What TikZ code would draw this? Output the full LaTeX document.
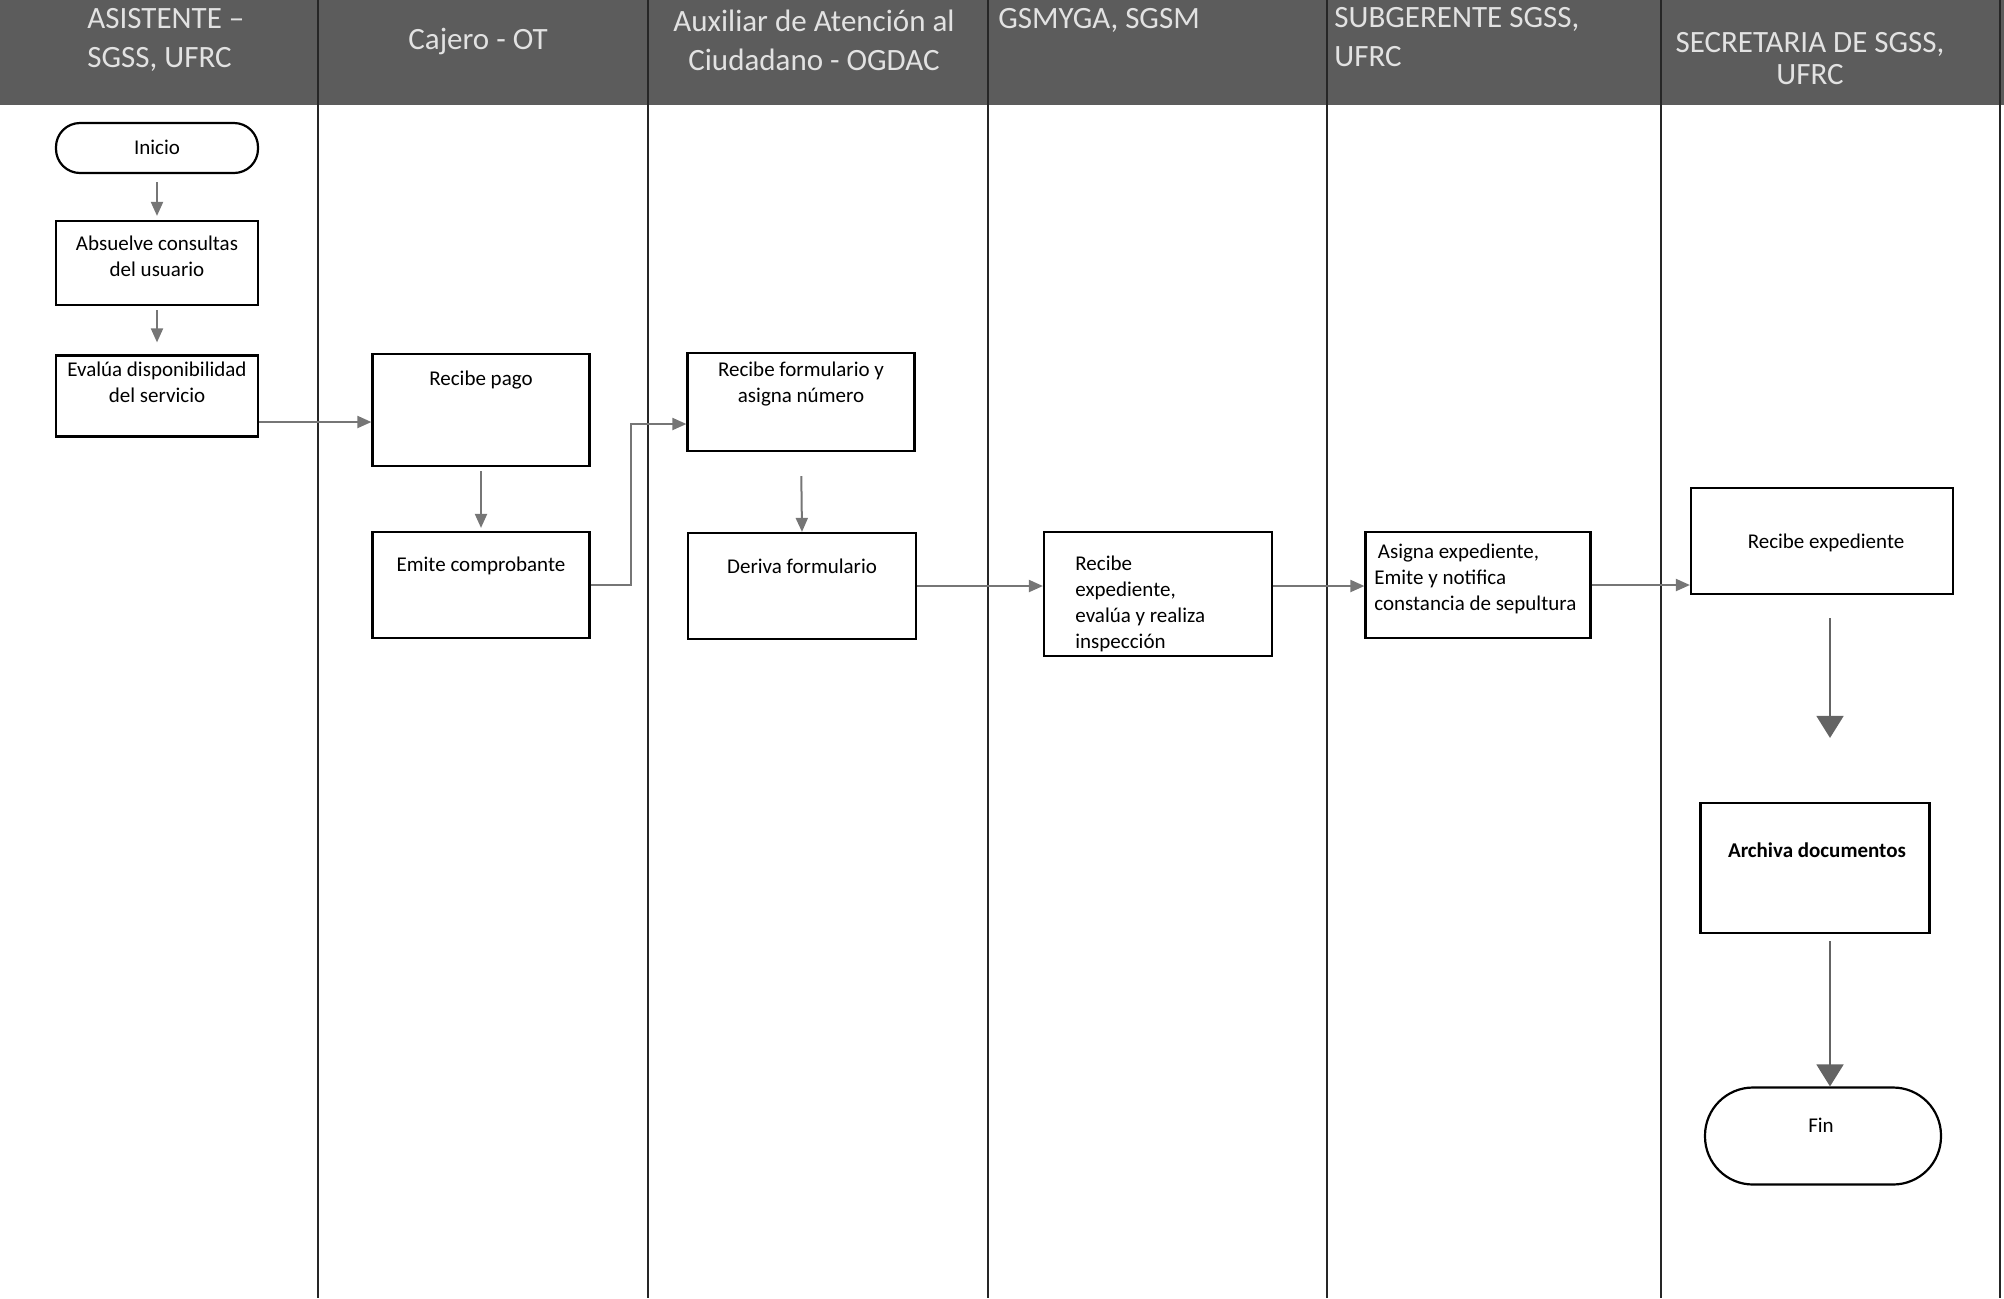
\documentclass[tikz,border=0pt]{standalone}
\usepackage{fontspec}
\setmainfont{Carlito}
\usetikzlibrary{calc,arrows.meta}

\definecolor{headbg}{RGB}{92,92,92}
\definecolor{headfg}{RGB}{226,226,226}
\definecolor{flowgray}{RGB}{118,118,118}

\tikzset{
  box/.style={draw=black, line width=1.1pt, rectangle, inner sep=0pt},
  boxtext/.style={font=\fontsize{10.5}{13}\selectfont, align=center, inner sep=0pt},
  headtext/.style={font=\fontsize{15.5}{19.5}\selectfont, text=headfg, inner sep=0pt},
  flow/.style={draw=flowgray, line width=1pt, -{Triangle[length=7pt,width=6pt]}},
  bigflow/.style={draw=flowgray!85!black, line width=0.9pt, -{Triangle[length=11pt,width=13.5pt]}},
  lane/.style={draw=black!85, line width=1pt}
}

\begin{document}
\begin{tikzpicture}[x=0.5pt, y=-0.5pt]

% Frame and header band
\useasboundingbox (0,0) rectangle (2004,1298);
\fill[headbg] (0,0) rectangle (2004,105);

% Lane dividers
\foreach \lx in {318,648,988,1327,1661,2000} {
  \draw[lane] (\lx,0) -- (\lx,1298);
}

% Lane titles
\node[headtext, anchor=west, align=left] (h-asis) at (87,40) {ASISTENTE –\\SGSS, UFRC};
\node[headtext] (h-cajero) at (478,41) {Cajero - OT};
\node[headtext, align=center] (h-aux) at (814,40) {Auxiliar de Atención al\\Ciudadano - OGDAC};
\node[headtext, anchor=west] (h-gsm) at (998,20) {GSMYGA, SGSM};
\node[headtext, anchor=west, align=left] (h-sub) at (1334,37) {SUBGERENTE SGSS,\\UFRC};
\node[headtext, align=center, font=\fontsize{15.5}{16}\selectfont] (h-sec) at (1810,59) {SECRETARIA DE SGSS,\\UFRC};

% Boxes
\node[box, rounded corners=12pt, minimum width=101pt, minimum height=25pt] (inicio) at (157,148) {};
\node[box, minimum width=101pt, minimum height=42pt] (absuelve) at (157,263) {};
\node[box, minimum width=101pt, minimum height=40.5pt] (evalua) at (157,396) {};
\node[box, minimum width=108.5pt, minimum height=56pt] (pago) at (481,410) {};
\node[box, minimum width=108.5pt, minimum height=53pt] (emite) at (481,585) {};
\node[box, minimum width=113.5pt, minimum height=49pt] (formulario) at (801,402) {};
\node[box, minimum width=114pt, minimum height=53pt] (deriva) at (802,586) {};
\node[box, minimum width=114pt, minimum height=62pt] (recexp) at (1158,594) {};
\node[box, minimum width=112.5pt, minimum height=53pt] (asigna) at (1478,585) {};
\node[box, minimum width=131pt, minimum height=53pt] (recibe) at (1822,541) {};
\node[box, minimum width=114.5pt, minimum height=65pt] (archiva) at (1815,868) {};
\node[box, rounded corners=24pt, minimum width=118pt, minimum height=48.5pt] (fin) at (1823,1136) {};

% Box texts
\node[boxtext] (t-inicio) at (157,147) {Inicio};
\node[boxtext] (t-absuelve) at (157,256) {Absuelve consultas\\del usuario};
\node[boxtext] (t-evalua) at (157,382) {Evalúa disponibilidad\\del servicio};
\node[boxtext] (t-pago) at (481,380) {Recibe pago};
\node[boxtext] (t-emite) at (481,566) {Emite comprobante};
\node[boxtext] (t-formulario) at (801,384) {Recibe formulario y\\asigna número};
\node[boxtext] (t-deriva) at (802,566) {Deriva formulario};
\node[boxtext, anchor=west, align=left] (t-recexp) at (1075,604) {Recibe\\expediente,\\evalúa y realiza\\inspección};
\node[boxtext, anchor=west, align=left] (t-asigna) at (1374,579) {\,Asigna expediente,\\Emite y notifica\\constancia de sepultura};
\node[boxtext] (t-recibe) at (1826,543) {Recibe expediente};
\node[boxtext, font=\bfseries\fontsize{10.5}{13}\selectfont] (t-archiva) at (1817,850) {Archiva documentos};
\node[boxtext] (t-fin) at (1821,1125) {Fin};

% Connectors
\coordinate (row1) at (0,422);
\coordinate (col) at (1830,0);
\draw[flow, shorten <=4pt, shorten >=2pt] (inicio.south) -- (absuelve.north);
\draw[flow, shorten <=2pt, shorten >=6pt] (absuelve.south) -- (evalua.north);
\draw[flow] (evalua.east |- row1) -- (pago.west |- row1);
\draw[flow, shorten <=2pt, shorten >=1.5pt] (pago.south) -- (emite.north);
\draw[flow] (emite.east) -- ++(40,0) |- ($(formulario.west)+(0,22)$);
\draw[flow, shorten <=12pt] (formulario.south) -- (deriva.north);
\draw[flow] (deriva.east) -- (deriva.east -| recexp.west);
\draw[flow] (recexp.east |- deriva.east) -- (deriva.east -| asigna.west);
\draw[flow] (asigna.east) -- (asigna.east -| recibe.west);
\draw[bigflow, shorten <=11.5pt, shorten >=32pt] (recibe.south -| col) -- (archiva.north -| col);
\draw[bigflow, shorten <=3.5pt] (archiva.south -| col) -- (fin.north -| col);

\end{tikzpicture}
\end{document}
